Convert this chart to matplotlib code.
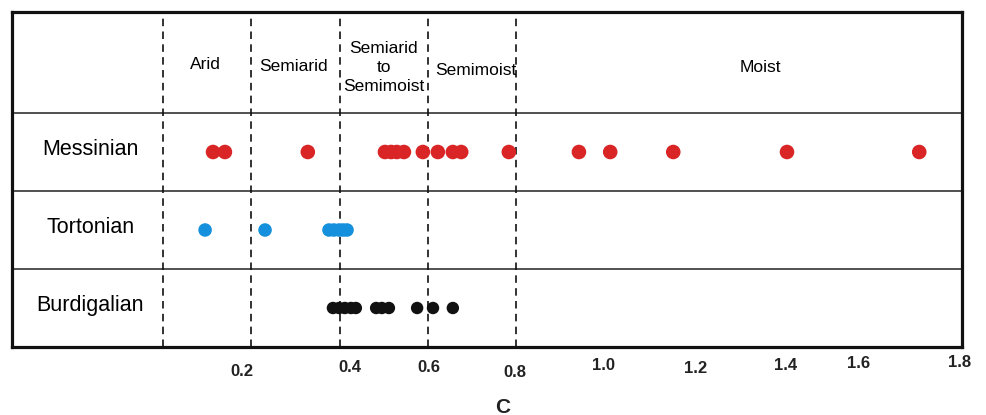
import numpy as np
import matplotlib
matplotlib.use('Agg')
import matplotlib.pyplot as plt

plt.rcParams['font.family'] = ['Liberation Sans', 'DejaVu Sans']

# C values per stage
messinian = [0.113, 0.140, 0.328, 0.503, 0.517, 0.530, 0.546, 0.589, 0.623,
             0.657, 0.676, 0.784, 0.943, 1.014, 1.157, 1.415, 1.715]
tortonian = [0.095, 0.231, 0.376, 0.387, 0.399, 0.408, 0.417]
burdigalian = [0.385, 0.399, 0.412, 0.426, 0.437, 0.483, 0.496, 0.512,
               0.576, 0.612, 0.657]

stages = ['Messinian', 'Tortonian', 'Burdigalian']
# climate class limits and names
bounds = [0.0, 0.2, 0.4, 0.6, 0.8]
classes = ['Arid', 'Semiarid', 'Semiarid\nto\nSemimoist', 'Semimoist', 'Moist']
tick_vals = [0.2, 0.4, 0.6, 0.8, 1.0, 1.2, 1.4, 1.6, 1.8]
tick_labels = ['0.2', '0.4', '0.6', '0.8', '1.0', '1.2', '1.4', '1.6', '1.8']

# hand placement of the axis numbers (pixels)
tick_dx = [-9, 10, 1, -1, -1, 3, 5, -10, 3]
tick_dy = [-24, -20, -20, -25, -18, -21, -18, -16, -15]
class_x = [0.095, 0.295, 0.50, 0.71, 1.355]
class_y = [3.62, 3.60, 3.58, 3.55, 3.58]

fig = plt.figure(figsize=(9.87, 4.15), dpi=100)
ax = fig.add_axes([12/987, 1-347/415, 950/987, 335/415])

x0, x1 = -0.343, 1.812
ax.set_xlim(x0, x1)
ax.set_ylim(0, 335/78)

rows = [(messinian, 2.5, '#d92525', 110),
        (tortonian, 1.5, '#1590dc', 95),
        (burdigalian, 0.5, '#111111', 80)]
for vals, y, col, s in rows:
    ax.scatter(vals, np.full(len(vals), y), s=s, color=col,
               edgecolors='none', zorder=3)

for name, y in zip(stages, [2.5, 1.5, 0.5]):
    ax.text(-0.165, y + 0.03, name, ha='center', va='center', fontsize=15.5)

for yy in (1, 2, 3):
    ax.axhline(yy, color='#333333', lw=1.2, zorder=1)

for b in bounds:
    ax.axvline(b, color='#111111', lw=1.2, linestyle=(0, (4.5, 3.2)), zorder=2)

for name, cx, cy in zip(classes, class_x, class_y):
    ax.text(cx, cy, name, ha='center', va='center', fontsize=12.5,
            linespacing=1.35)

for v, lab, dx, dy in zip(tick_vals, tick_labels, tick_dx, tick_dy):
    ax.annotate(lab, xy=(v, 0), xycoords=('data', 'axes fraction'),
                xytext=(dx, dy), textcoords='offset pixels',
                ha='center', va='center', fontsize=12, fontweight='bold',
                color='#222222')

ax.annotate('C', xy=(1 + (503-604)/440.7, 0), xycoords=('data', 'axes fraction'),
            xytext=(0, -60), textcoords='offset pixels',
            ha='center', va='center', fontsize=15, fontweight='bold',
            color='#222222')

ax.set_xticks([])
ax.set_yticks([])
for sp in ax.spines.values():
    sp.set_linewidth(2.3)
    sp.set_color('#111111')

fig.savefig('out.png', dpi=100)
